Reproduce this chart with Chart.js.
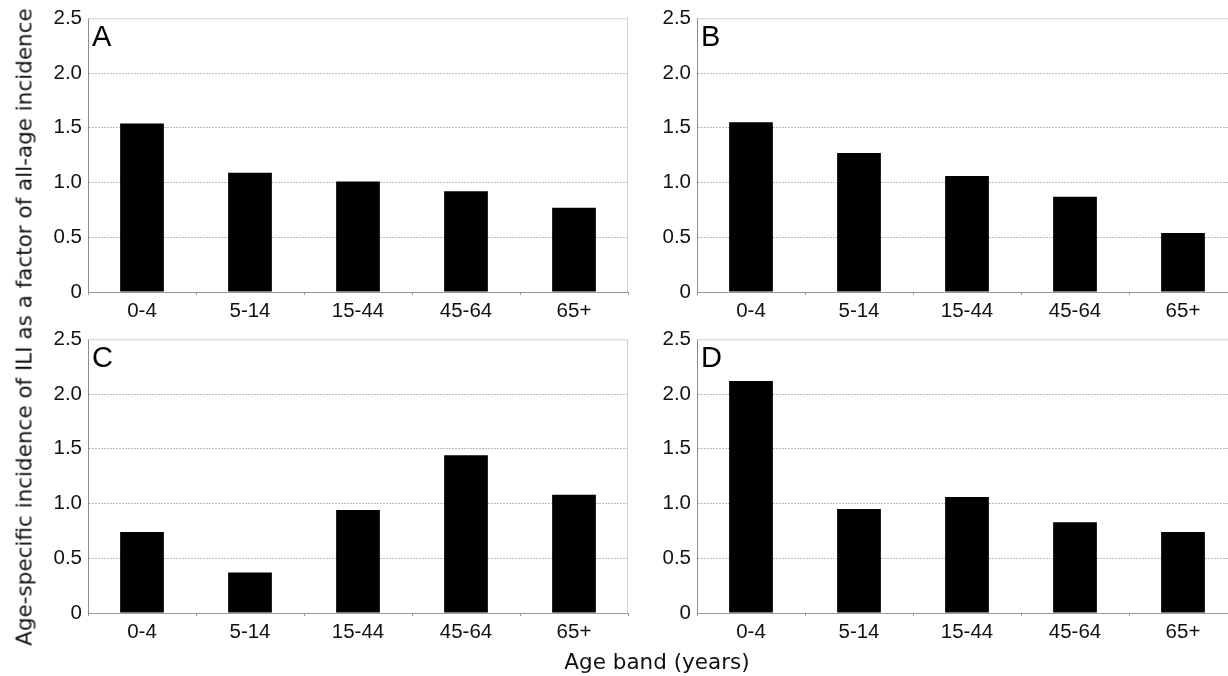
<!DOCTYPE html>
<html>
<head>
<meta charset="utf-8">
<title>Age-specific incidence of ILI</title>
<script src="https://cdn.jsdelivr.net/npm/chart.js@4.4.0/dist/chart.umd.min.js"></script>
<style>
  html, body { margin: 0; padding: 0; background: #fff; }
  body { width: 1228px; height: 676px; position: relative; overflow: hidden; }
  canvas { position: absolute; }
  .title { position: absolute; font-family: 'DejaVu Sans', Verdana, sans-serif; font-size: 21.5px; color: #111; white-space: nowrap; }
  #yTitle { left: 24px; top: 327px; transform: translate(-50%, -50%) rotate(-90deg); }
  #xTitle { left: 657px; top: 661px; transform: translate(-50%, -50%); }
</style>
</head>
<body>
<canvas id="chartA" width="600" height="330" style="left:30px; top:0px;"></canvas>
<canvas id="chartB" width="600" height="330" style="left:640px; top:0px;"></canvas>
<canvas id="chartC" width="600" height="330" style="left:30px; top:321px;"></canvas>
<canvas id="chartD" width="600" height="330" style="left:640px; top:321px;"></canvas>
<div class="title" id="yTitle">Age-specific incidence of ILI as a factor of all-age incidence</div>
<div class="title" id="xTitle">Age band (years)</div>

<script>
// Age-specific ILI incidence relative to all-age incidence, four panels

const ageBands = ['0-4', '5-14', '15-44', '45-64', '65+'];
const yTicks = [0, 0.5, 1.0, 1.5, 2.0, 2.5];

const panelA = [1.54, 1.09, 1.01, 0.92, 0.77];
const panelB = [1.55, 1.27, 1.06, 0.87, 0.54];
const panelC = [0.74, 0.37, 0.94, 1.44, 1.08];
const panelD = [2.12, 0.95, 1.06, 0.83, 0.74];

Chart.defaults.font.family = "'Liberation Sans', Arial, sans-serif";
Chart.defaults.font.size = 20.5;
Chart.defaults.color = '#111';

// light frame on top/right, panel letter in the corner
const framePlugin = {
  id: 'frame',
  beforeDatasetsDraw(chart) {
    const { ctx, chartArea: a } = chart;
    ctx.save();
    ctx.strokeStyle = '#d0d0d0';
    ctx.lineWidth = 1;
    ctx.beginPath();
    ctx.moveTo(a.left, a.top + 0.5);
    ctx.lineTo(a.right, a.top + 0.5);
    ctx.moveTo(a.right - 0.5, a.top);
    ctx.lineTo(a.right - 0.5, a.bottom);
    ctx.stroke();
    ctx.restore();
  },
  afterDraw(chart, args, opts) {
    const { ctx, chartArea: a } = chart;
    ctx.save();
    ctx.fillStyle = '#000';
    ctx.font = "29px 'Liberation Sans', Arial, sans-serif";
    ctx.textBaseline = 'alphabetic';
    ctx.fillText(opts.letter, a.left + 4, a.top + 28);
    ctx.restore();
  }
};

function makePanel(canvasId, letter, values, yAxisWidth, padRight) {
  const ctx = document.getElementById(canvasId).getContext('2d');
  return new Chart(ctx, {
    type: 'bar',
    data: {
      labels: ageBands,
      datasets: [{
        data: values,
        backgroundColor: '#000',
        borderWidth: 0,
        categoryPercentage: 1,
        barPercentage: 0.405
      }]
    },
    options: {
      responsive: false,
      animation: false,
      devicePixelRatio: 1,
      layout: { padding: { top: 17, right: padRight, left: 0, bottom: 0 } },
      plugins: {
        legend: { display: false },
        tooltip: { enabled: false },
        frame: { letter: letter }
      },
      scales: {
        x: {
          offset: true,
          grid: {
            offset: true,
            drawOnChartArea: false,
            drawTicks: true,
            tickLength: 3,
            tickColor: '#999'
          },
          border: { display: true, color: '#999', width: 1 },
          ticks: { padding: 4, maxRotation: 0 },
          afterFit(scale) { scale.height = 38; }
        },
        y: {
          min: 0,
          max: 2.5,
          afterBuildTicks(scale) {
            scale.ticks = yTicks.map(v => ({ value: v }));
          },
          grid: {
            drawTicks: false,
            color: (c) => (c.tick && (c.tick.value === 0 || c.tick.value === 2.5)) ? 'rgba(0,0,0,0)' : '#bababa',
            lineWidth: 1
          },
          border: { display: true, color: '#8c8c8c', width: 1, dash: [2, 1] },
          ticks: {
            padding: 6,
            callback: (v) => v === 0 ? '0' : Number(v).toFixed(1)
          },
          afterFit(scale) { scale.width = yAxisWidth; }
        }
      }
    },
    plugins: [framePlugin]
  });
}

document.addEventListener('DOMContentLoaded', () => {
  makePanel('chartA', 'A', panelA, 58, 2);
  makePanel('chartB', 'B', panelB, 57, 3);
  makePanel('chartC', 'C', panelC, 58, 2);
  makePanel('chartD', 'D', panelD, 57, 3);
});
</script>
</body>
</html>
